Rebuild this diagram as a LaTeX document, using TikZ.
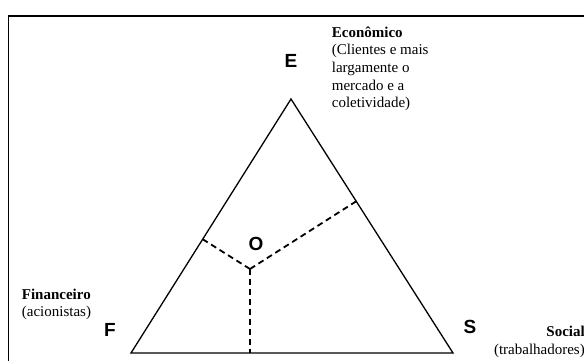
\documentclass[tikz,border=0pt]{standalone}
\usepackage{fontspec}
\setmainfont{Liberation Serif}
\newfontfamily\arialfont{Liberation Sans}
\usetikzlibrary{calc}
\begin{document}
\begin{tikzpicture}[x=1pt,y=-1pt,
  vertexlabel/.style={font=\arialfont\bfseries\fontsize{19}{19}\selectfont, inner sep=0pt},
  desc/.style={font=\fontsize{15}{17.6}\selectfont, inner sep=0pt},
  side/.style={line width=1.3pt, line join=miter},
  perp/.style={line width=1.8pt, dash pattern=on 6pt off 4pt}]
\useasboundingbox[fill=white] (0,0) rectangle (584,360);
\clip (0,0) rectangle (584,360);
\draw[line width=1.5pt] (8.5,16) rectangle (640,420);
\coordinate (E) at (291,99);
\coordinate (F) at (131,353);
\coordinate (S) at (453,353);
\coordinate (ctr) at (250,269);
\draw[side] (E) -- (F) -- (S) -- cycle;
\draw[perp] (ctr) -- ($(F)!(ctr)!(E)$);
\draw[perp] (ctr) -- ($(S)!(ctr)!(E)$);
\draw[perp] (ctr) -- ($(F)!(ctr)!(S)$);
\node[vertexlabel] (lE) at (291,61) {E};
\node[vertexlabel] (lF) at (110,330) {F};
\node[vertexlabel] (lS) at (470,327) {S};
\node[vertexlabel] (lO) at (256,244) {O};
\node[desc, anchor=base west, align=left] (econ) at (331.7,107.7) {\textbf{Econômico}\\(Clientes e mais\\largamente o\\mercado e a\\coletividade)};
\node[desc, anchor=base west, align=left] (fin) at (21.7,316.6) {\textbf{Financeiro}\\(acionistas)};
\node[desc, anchor=base east, align=right] (soc) at (585,354.3) {\textbf{Social}\\(trabalhadores)};
\end{tikzpicture}
\end{document}
